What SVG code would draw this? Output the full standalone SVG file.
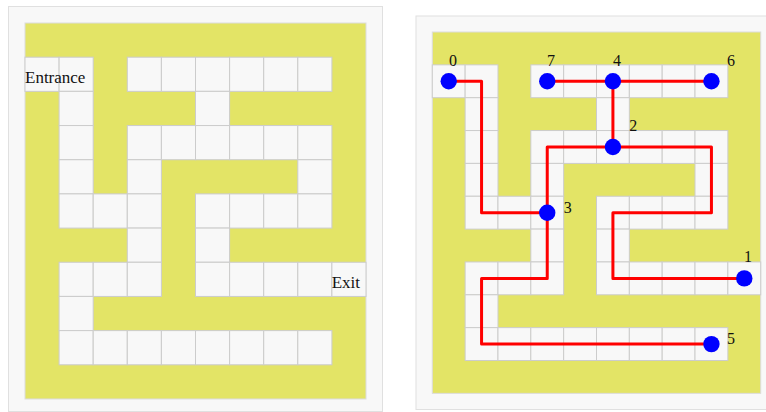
<svg xmlns="http://www.w3.org/2000/svg" xmlns:xlink="http://www.w3.org/1999/xlink" width="766" height="412" viewBox="0 0 766 412">
<style>
.panel{fill:#f8f8f8;stroke:#e0e0e0;stroke-width:1}
.wall{fill:#e3e466;stroke:#dcdcdc;stroke-width:0.03}
.cell{fill:#f8f8f8;stroke:#cccccc;stroke-width:0.03}
.lbl{font-family:"Liberation Serif","Times New Roman",serif;fill:#111}
.num{font-family:"Liberation Serif","Times New Roman",serif;font-size:16px;fill:#111;text-anchor:middle}
.edge{fill:none;stroke:#ff0000;stroke-width:3;stroke-linejoin:round}
.node{fill:#0000ff}
</style>
<defs>
<g id="maze">
<rect class="wall" x="0" y="0" width="10" height="11"/>
<rect class="cell" x="0" y="1" width="1" height="1"/><rect class="cell" x="1" y="1" width="1" height="1"/>
<rect class="cell" x="3" y="1" width="1" height="1"/><rect class="cell" x="4" y="1" width="1" height="1"/>
<rect class="cell" x="5" y="1" width="1" height="1"/><rect class="cell" x="6" y="1" width="1" height="1"/>
<rect class="cell" x="7" y="1" width="1" height="1"/><rect class="cell" x="8" y="1" width="1" height="1"/>
<rect class="cell" x="1" y="2" width="1" height="1"/><rect class="cell" x="5" y="2" width="1" height="1"/>
<rect class="cell" x="1" y="3" width="1" height="1"/><rect class="cell" x="3" y="3" width="1" height="1"/>
<rect class="cell" x="4" y="3" width="1" height="1"/><rect class="cell" x="5" y="3" width="1" height="1"/>
<rect class="cell" x="6" y="3" width="1" height="1"/><rect class="cell" x="7" y="3" width="1" height="1"/>
<rect class="cell" x="8" y="3" width="1" height="1"/>
<rect class="cell" x="1" y="4" width="1" height="1"/><rect class="cell" x="3" y="4" width="1" height="1"/>
<rect class="cell" x="8" y="4" width="1" height="1"/>
<rect class="cell" x="1" y="5" width="1" height="1"/><rect class="cell" x="2" y="5" width="1" height="1"/>
<rect class="cell" x="3" y="5" width="1" height="1"/><rect class="cell" x="5" y="5" width="1" height="1"/>
<rect class="cell" x="6" y="5" width="1" height="1"/><rect class="cell" x="7" y="5" width="1" height="1"/>
<rect class="cell" x="8" y="5" width="1" height="1"/>
<rect class="cell" x="3" y="6" width="1" height="1"/><rect class="cell" x="5" y="6" width="1" height="1"/>
<rect class="cell" x="1" y="7" width="1" height="1"/><rect class="cell" x="2" y="7" width="1" height="1"/>
<rect class="cell" x="3" y="7" width="1" height="1"/><rect class="cell" x="5" y="7" width="1" height="1"/>
<rect class="cell" x="6" y="7" width="1" height="1"/><rect class="cell" x="7" y="7" width="1" height="1"/>
<rect class="cell" x="8" y="7" width="1" height="1"/><rect class="cell" x="9" y="7" width="1" height="1"/>
<rect class="cell" x="1" y="8" width="1" height="1"/>
<rect class="cell" x="1" y="9" width="1" height="1"/><rect class="cell" x="2" y="9" width="1" height="1"/>
<rect class="cell" x="3" y="9" width="1" height="1"/><rect class="cell" x="4" y="9" width="1" height="1"/>
<rect class="cell" x="5" y="9" width="1" height="1"/><rect class="cell" x="6" y="9" width="1" height="1"/>
<rect class="cell" x="7" y="9" width="1" height="1"/><rect class="cell" x="8" y="9" width="1" height="1"/>
</g>
</defs>
<rect width="766" height="412" fill="#ffffff"/>
<!-- left panel -->
<rect class="panel" x="8.5" y="6.5" width="374" height="405"/>
<use xlink:href="#maze" href="#maze" transform="translate(25,23) scale(34.1,34.18)"/>
<text class="lbl" x="25" y="83.3" font-size="17">Entrance</text>
<text class="lbl" x="331.7" y="288.3" font-size="17">Exit</text>
<!-- right panel -->
<rect class="panel" x="416" y="16" width="360" height="393.5"/>
<use xlink:href="#maze" href="#maze" transform="translate(432.3,32) scale(32.84,32.85)"/>
<g id="edges">
<polyline class="edge" points="448.72,81.28 481.56,81.28 481.56,212.68 547.24,212.68"/>
<polyline class="edge" points="547.24,81.28 711.44,81.28"/>
<polyline class="edge" points="612.92,81.28 612.92,146.98"/>
<polyline class="edge" points="612.92,146.98 547.24,146.98 547.24,212.68"/>
<polyline class="edge" points="612.92,146.98 711.44,146.98 711.44,212.68 612.92,212.68 612.92,278.38 744.28,278.38"/>
<polyline class="edge" points="547.24,212.68 547.24,278.38 481.56,278.38 481.56,344.08 711.44,344.08"/>
</g>
<g id="node0"><circle class="node" cx="448.72" cy="81.28" r="8.2"/><text class="num" x="453" y="66">0</text></g>
<g id="node7"><circle class="node" cx="547.24" cy="81.28" r="8.2"/><text class="num" x="551" y="66">7</text></g>
<g id="node4"><circle class="node" cx="612.92" cy="81.28" r="8.2"/><text class="num" x="617" y="66">4</text></g>
<g id="node6"><circle class="node" cx="711.44" cy="81.28" r="8.2"/><text class="num" x="731" y="66">6</text></g>
<g id="node2"><circle class="node" cx="612.92" cy="146.98" r="8.2"/><text class="num" x="633.3" y="131.3">2</text></g>
<g id="node3"><circle class="node" cx="547.24" cy="212.68" r="8.2"/><text class="num" x="567.7" y="212.7">3</text></g>
<g id="node1"><circle class="node" cx="744.28" cy="278.38" r="8.2"/><text class="num" x="748" y="262.3">1</text></g>
<g id="node5"><circle class="node" cx="711.44" cy="344.08" r="8.2"/><text class="num" x="731" y="344">5</text></g>
</svg>
